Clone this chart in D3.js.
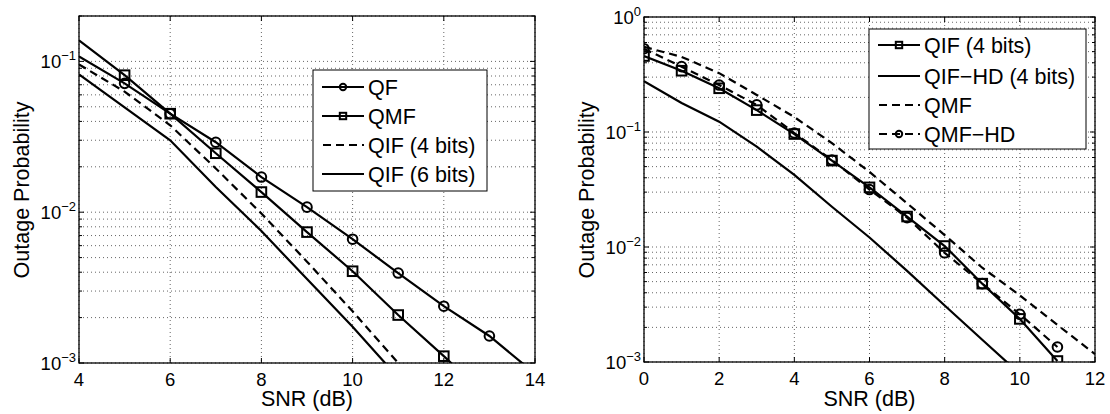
<!DOCTYPE html>
<html>
<head>
<meta charset="utf-8">
<script src="https://cdnjs.cloudflare.com/ajax/libs/d3/7.8.5/d3.min.js"></script>
<style>
body{margin:0;background:#fff;}
svg{display:block;font-family:"Liberation Sans",Arial,sans-serif;}
</style>
</head>
<body>
<div id="canvas"></div>
<script>
// ---- left panel data (SNR in dB, outage probability) ----
var snrLeft = [4,5,6,7,8,9,10,11,12,13,14];
var qfLeft   = [0.108,0.0715,0.045,0.0291,0.0171,0.0108,0.00662,0.00395,0.00238,0.00151,0.00085];
var qmfLeft  = [0.138,0.081,0.045,0.0246,0.0136,0.00738,0.00406,0.00208,0.00111,0.00058];
var qif4Left = [0.0955,0.063,0.0377,0.0195,0.0098,0.0047,0.0022,0.001];
var qif6Left = [0.082,0.0496,0.030,0.0147,0.0075,0.0036,0.00174,0.0008];
var markQF  = [5,6,7,8,9,10,11,12,13];
var markQMF = [5,6,7,8,9,10,11,12];
var xTicksLeft = [4,6,8,10,12,14];

// ---- right panel data ----
var snrRight = [0,1,2,3,4,5,6,7,8,9,10,11,12];
var qifRight   = [0.458,0.341,0.240,0.155,0.096,0.0564,0.033,0.0184,0.0102,0.0048,0.00237,0.00102];
var qifHDRight = [0.277,0.179,0.123,0.0745,0.0423,0.0224,0.0121,0.0062,0.0031,0.00156,0.00079];
var qmfRight   = [0.55,0.45,0.325,0.21,0.135,0.08,0.045,0.024,0.0127,0.0066,0.0038,0.0021,0.00117];
var qmfHDRight = [0.53,0.37,0.256,0.172,0.098,0.057,0.0316,0.018,0.0089,0.0048,0.0026,0.00135];
var markRight = [0,1,2,3,4,5,6,7,8,9,10,11];
var xTicksRight = [0,2,4,6,8,10,12];

var W = 1110, H = 414;
var svg = d3.select('#canvas').append('svg').attr('width', W).attr('height', H);

function makeSeries(snr, vals, name, dash, marker, marks){
    return {name:name, dash:dash, marker:marker, marks:marks,
        pts: vals.map(function(v,i){ return [snr[i], v]; })};
}

function drawPanel(id, box, xDom, yDom, xTicks, series, leg){
    var x = d3.scaleLinear().domain(xDom).range([box.l, box.r]);
    var y = d3.scaleLog().domain(yDom).range([box.b, box.t]);
    var g = svg.append('g').attr('class','panel');

    g.append('clipPath').attr('id','clip'+id).append('rect')
        .attr('x', box.l).attr('y', box.t).attr('width', box.r-box.l).attr('height', box.b-box.t);

    // grid
    var yT = y.ticks();
    g.selectAll('.hgrid').data(yT).enter().append('line')
        .attr('x1', box.l).attr('x2', box.r)
        .attr('y1', function(d){ return y(d); }).attr('y2', function(d){ return y(d); })
        .attr('stroke','#555').attr('stroke-width',0.9).attr('stroke-dasharray','1,3');
    g.selectAll('.vgrid').data(xTicks).enter().append('line')
        .attr('x1', function(d){ return x(d); }).attr('x2', function(d){ return x(d); })
        .attr('y1', box.t).attr('y2', box.b)
        .attr('stroke','#555').attr('stroke-width',0.9).attr('stroke-dasharray','1,3');

    // tick marks inside, both sides
    var isMajor = function(d){ return Math.abs(Math.log10(d) - Math.round(Math.log10(d))) < 1e-6; };
    yT.forEach(function(d){
        var len = isMajor(d) ? 5 : 3;
        g.append('line').attr('x1',box.l).attr('x2',box.l+len).attr('y1',y(d)).attr('y2',y(d)).attr('stroke','#000');
        g.append('line').attr('x1',box.r).attr('x2',box.r-len).attr('y1',y(d)).attr('y2',y(d)).attr('stroke','#000');
    });
    xTicks.forEach(function(d){
        g.append('line').attr('x1',x(d)).attr('x2',x(d)).attr('y1',box.b).attr('y2',box.b-5).attr('stroke','#000');
        g.append('line').attr('x1',x(d)).attr('x2',x(d)).attr('y1',box.t).attr('y2',box.t+5).attr('stroke','#000');
    });

    // tick labels
    g.selectAll('.xl').data(xTicks).enter().append('text')
        .attr('x', function(d){ return x(d); }).attr('y', box.b+23)
        .attr('text-anchor','middle').attr('font-size',18.5).text(function(d){ return d; });
    var majors = yT.filter(isMajor);
    majors.forEach(function(d){
        var t = g.append('text').attr('x', box.l-3).attr('y', y(d)+6.5)
            .attr('text-anchor','end').attr('font-size',18.5);
        t.append('tspan').text('10');
        var e = Math.round(Math.log10(d));
        t.append('tspan').attr('font-size',13).attr('dy',-7.5).text(e === 0 ? '0' : '\u2212' + (-e));
    });

    // axis labels
    g.append('text').attr('x', (box.l+box.r)/2).attr('y', 406)
        .attr('text-anchor','middle').attr('font-size',21.5).text('SNR (dB)');
    g.append('text').attr('transform','translate(' + (box.l-50) + ',190) rotate(-90)')
        .attr('text-anchor','middle').attr('font-size',21.5).text('Outage Probability');

    // data lines
    var line = d3.line().x(function(d){ return x(d[0]); }).y(function(d){ return y(d[1]); });
    var plot = g.append('g').attr('clip-path','url(#clip'+id+')');
    series.forEach(function(s){
        plot.append('path').datum(s.pts).attr('d', line)
            .attr('fill','none').attr('stroke','#000').attr('stroke-width',2.2)
            .attr('stroke-dasharray', s.dash ? '8,5' : null);
        if (s.marker) {
            var mp = s.pts.filter(function(p){ return s.marks.indexOf(p[0]) >= 0; });
            mp.forEach(function(p){ drawMarker(plot, s.marker, x(p[0]), y(p[1]), 4.8); });
        }
    });

    // box
    g.append('rect').attr('x', box.l).attr('y', box.t)
        .attr('width', box.r-box.l).attr('height', box.b-box.t)
        .attr('fill','none').attr('stroke','#000').attr('stroke-width',1.3);

    // legend
    var lg = g.append('g');
    lg.append('rect').attr('x', leg.x).attr('y', leg.y).attr('width', leg.w).attr('height', leg.h)
        .attr('fill','#fff').attr('stroke','#000').attr('stroke-width',1);
    series.forEach(function(s, i){
        var yy = leg.rows[i];
        lg.append('line').attr('x1', leg.x+9).attr('x2', leg.x+51).attr('y1', yy).attr('y2', yy)
            .attr('stroke','#000').attr('stroke-width',2.2)
            .attr('stroke-dasharray', s.dash ? '8,5' : null)
            .attr('stroke-dashoffset', s.dash ? -1 : null);
        if (s.marker) drawMarker(lg, s.marker, leg.x+30, yy, 3.2);
        lg.append('text').attr('x', leg.x+55).attr('y', yy+7.5)
            .attr('font-size',21.5).text(s.name);
    });
}

function drawMarker(sel, type, cx, cy, r){
    if (type === 'circle') {
        sel.append('circle').attr('cx',cx).attr('cy',cy).attr('r',r)
            .attr('fill','none').attr('stroke','#000').attr('stroke-width',2);
    } else {
        sel.append('rect').attr('x',cx-r).attr('y',cy-r).attr('width',2*r).attr('height',2*r)
            .attr('fill','none').attr('stroke','#000').attr('stroke-width',2);
    }
}

drawPanel('L', {l:79, r:535, t:16, b:363}, [4,14], [1e-3,0.2], xTicksLeft, [
    makeSeries(snrLeft, qfLeft, 'QF', false, 'circle', markQF),
    makeSeries(snrLeft, qmfLeft, 'QMF', false, 'square', markQMF),
    makeSeries(snrLeft, qif4Left, 'QIF (4 bits)', true, null, []),
    makeSeries(snrLeft, qif6Left, 'QIF (6 bits)', false, null, [])
], {x:313, y:70, w:174, h:121, rows:[87,116,145,174]});

drawPanel('R', {l:644, r:1095, t:17, b:362}, [0,12], [1e-3,1], xTicksRight, [
    makeSeries(snrRight, qifRight, 'QIF (4 bits)', false, 'square', markRight),
    makeSeries(snrRight, qifHDRight, 'QIF\u2212HD (4 bits)', false, null, []),
    makeSeries(snrRight, qmfRight, 'QMF', true, null, []),
    makeSeries(snrRight, qmfHDRight, 'QMF\u2212HD', true, 'circle', markRight)
], {x:869, y:29, w:217, h:120, rows:[45,76,105,134]});
</script>
</body>
</html>
